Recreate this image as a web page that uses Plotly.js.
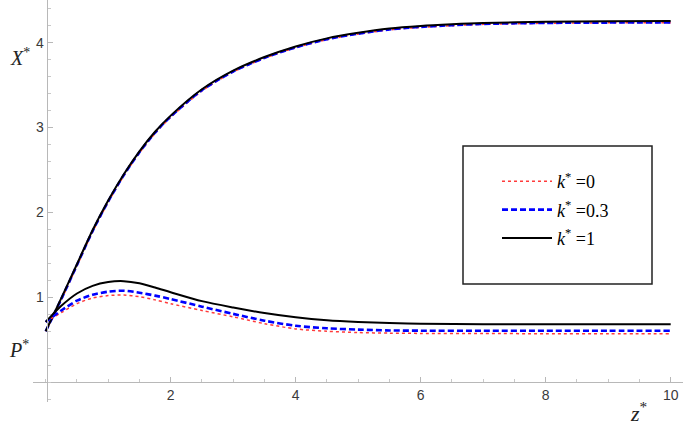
<!DOCTYPE html>
<html>
<head>
<meta charset="utf-8">
<script src="https://cdn.plot.ly/plotly-3.0.1.min.js"></script>
<style>html,body{margin:0;padding:0;background:#fff;}#chart{width:685px;height:427px;}</style>
</head>
<body>
<div id="chart"></div>
<script>
// z* grid for X* curves
var zX = [0, 0.25, 0.5, 0.75, 1, 1.25, 1.5, 1.75, 2, 2.5, 3, 3.5, 4, 4.5, 5, 5.5, 6, 6.5, 7, 8, 9, 10];
var X_k0  = [0.60, 0.97, 1.37, 1.77, 2.12, 2.43, 2.70, 2.93, 3.12, 3.43, 3.655, 3.815, 3.94, 4.035, 4.10, 4.15, 4.18, 4.20, 4.215, 4.228, 4.233, 4.235];
var X_k03 = [0.60, 0.98, 1.38, 1.78, 2.13, 2.44, 2.71, 2.94, 3.13, 3.44, 3.66, 3.82, 3.945, 4.04, 4.105, 4.155, 4.185, 4.205, 4.22, 4.232, 4.236, 4.238];
var X_k1  = [0.60, 0.99, 1.39, 1.79, 2.14, 2.45, 2.72, 2.95, 3.14, 3.45, 3.67, 3.83, 3.955, 4.05, 4.115, 4.165, 4.195, 4.215, 4.23, 4.245, 4.252, 4.255];

// z* grid for P* curves
var zP = [0, 0.1, 0.25, 0.5, 0.75, 1, 1.25, 1.5, 1.75, 2, 2.5, 3, 3.5, 4, 4.5, 5, 5.5, 6, 7, 8, 9, 10];
var P_k0  = [0.71, 0.755, 0.82, 0.925, 0.992, 1.02, 1.027, 1.007, 0.97, 0.925, 0.845, 0.77, 0.69, 0.628, 0.60, 0.585, 0.578, 0.575, 0.573, 0.572, 0.572, 0.572];
var P_k03 = [0.71, 0.765, 0.845, 0.96, 1.03, 1.066, 1.078, 1.054, 1.02, 0.98, 0.89, 0.805, 0.725, 0.665, 0.635, 0.62, 0.61, 0.607, 0.606, 0.606, 0.606, 0.606];
var P_k1  = [0.71, 0.79, 0.90, 1.045, 1.135, 1.18, 1.19, 1.165, 1.115, 1.06, 0.955, 0.88, 0.815, 0.765, 0.73, 0.71, 0.697, 0.688, 0.684, 0.683, 0.683, 0.683];

var names = ['<i>k</i><sup>*</sup> =0', '<i>k</i><sup>*</sup> =0.3', '<i>k</i><sup>*</sup> =1'];
var xTicks = [2, 4, 6, 8, 10];
var yTicks = [1, 2, 3, 4];

var sRed = {color: '#ff3b3b', width: 1.5, dash: 'dot', shape: 'spline', smoothing: 0.8};
var sBlue = {color: '#0000ff', width: 2.6, dash: '6px,3px', shape: 'spline', smoothing: 0.8};
var sBlack = {color: '#000000', width: 2, shape: 'spline', smoothing: 0.8};

var traces = [
  {x: zX, y: X_k0, mode: 'lines', name: names[0], line: sRed, legendgroup: 'a'},
  {x: zX, y: X_k03, mode: 'lines', name: names[1], line: sBlue, legendgroup: 'b'},
  {x: zX, y: X_k1, mode: 'lines', name: names[2], line: sBlack, legendgroup: 'c'},
  {x: zP, y: P_k0, mode: 'lines', name: names[0], line: sRed, showlegend: false, legendgroup: 'a'},
  {x: zP, y: P_k03, mode: 'lines', name: names[1], line: sBlue, showlegend: false, legendgroup: 'b'},
  {x: zP, y: P_k1, mode: 'lines', name: names[2], line: sBlack, showlegend: false, legendgroup: 'c'}
];

var W = 685, H = 427, ml = 33, mr = 2, mt = 0, mb = 25;
var pw = W - ml - mr, ph = H - mt - mb;
function px(xp) { return (xp - ml) / pw; }
function py(yp) { return (H - mb - yp) / ph; }

var tickFont = {family: "'Liberation Sans', Arial, sans-serif", size: 14, color: '#3a3a3a'};
var serif = "'Liberation Serif', 'Times New Roman', serif";

var layout = {
  width: W, height: H,
  font: {family: serif},
  margin: {l: ml, r: mr, t: mt, b: mb, pad: 0},
  paper_bgcolor: '#fff', plot_bgcolor: '#fff',
  showlegend: true,
  legend: {
    x: px(497), y: py(163), xanchor: 'left', yanchor: 'top',
    bgcolor: 'rgba(0,0,0,0)', borderwidth: 0,
    font: {family: serif, size: 18, color: '#000'},
    itemwidth: 50,
    traceorder: 'grouped',
    tracegroupgap: 2
  },
  xaxis: {
    range: [-0.203, 10.197], anchor: 'free', position: py(382.2),
    showgrid: false, zeroline: false, showline: true, linecolor: '#b8b8b8', linewidth: 1,
    tickmode: 'array', tickvals: xTicks, ticktext: xTicks.map(String),
    ticks: 'inside', ticklen: 5, tickcolor: '#b8b8b8', tickfont: tickFont,
    minor: {dtick: 0.5, tick0: 0, ticks: 'inside', ticklen: 3, tickcolor: '#c8c8c8'}
  },
  yaxis: {
    range: [-0.233, 4.502], anchor: 'free', position: px(46.5),
    showgrid: false, zeroline: false, showline: true, linecolor: '#b8b8b8', linewidth: 1,
    tickmode: 'array', tickvals: yTicks, ticktext: yTicks.map(String),
    ticks: 'inside', ticklen: 5, tickcolor: '#b8b8b8', tickfont: tickFont,
    minor: {dtick: 0.2, tick0: 0, ticks: 'inside', ticklen: 3, tickcolor: '#c8c8c8'}
  },
  shapes: [
    {type: 'rect', xref: 'paper', yref: 'paper', x0: px(463), x1: px(652), y0: py(284), y1: py(146),
     line: {color: '#222', width: 1.5}, fillcolor: 'rgba(0,0,0,0)'}
  ],
  annotations: [
    {xref: 'paper', yref: 'paper', x: px(20), y: py(57), text: '<i>X</i><sup>*</sup>', showarrow: false,
     font: {family: serif, size: 20, color: '#222'}, xanchor: 'center', yanchor: 'middle'},
    {xref: 'paper', yref: 'paper', x: px(19), y: py(349), text: '<i>P</i><sup>*</sup>', showarrow: false,
     font: {family: serif, size: 20, color: '#222'}, xanchor: 'center', yanchor: 'middle'},
    {xref: 'paper', yref: 'paper', x: px(638), y: py(412), text: '<i>z</i><sup>*</sup>', showarrow: false,
     font: {family: serif, size: 22, color: '#222'}, xanchor: 'center', yanchor: 'middle'}
  ]
};

Plotly.newPlot('chart', traces, layout, {displayModeBar: false, staticPlot: true});
</script>
</body>
</html>
